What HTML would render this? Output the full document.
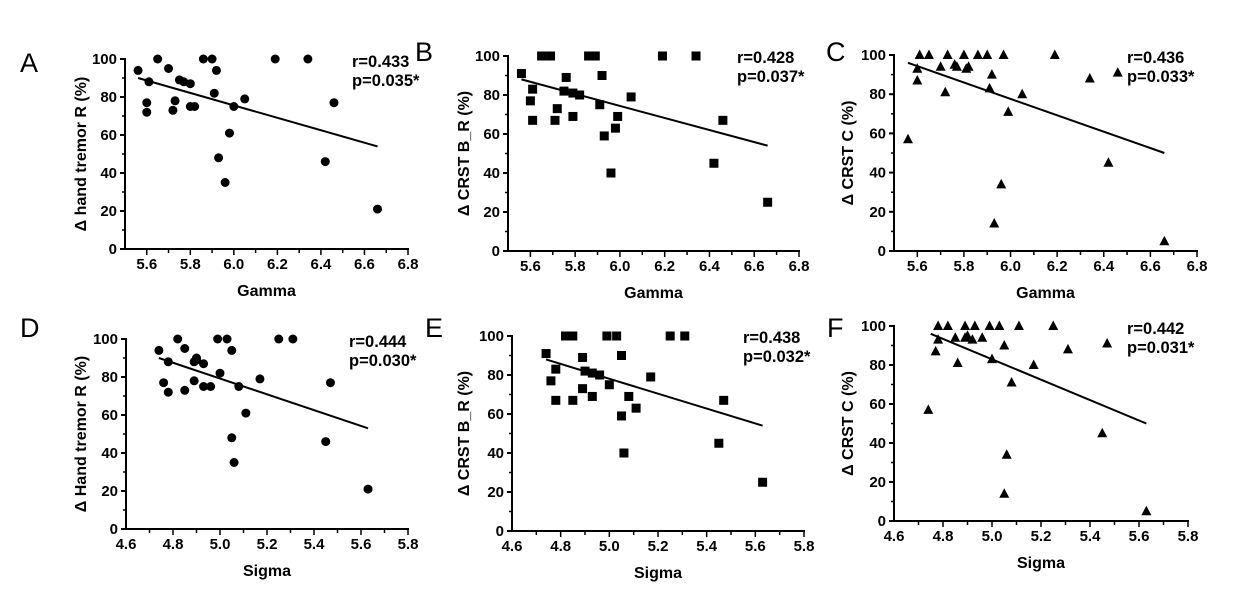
<!DOCTYPE html>
<html><head><meta charset="utf-8"><style>
html,body{margin:0;padding:0;background:#fff;}
svg{display:block;font-family:"Liberation Sans",Arial,sans-serif;}
</style></head><body>
<svg id="fig" width="1240" height="607" viewBox="0 0 1240 607"></svg>
<script>
// ---- data ----
const gammaA=[5.56,5.61,5.60,5.60,5.65,5.70,5.72,5.73,5.75,5.77,5.80,5.80,5.82,5.86,5.90,5.92,5.91,5.93,5.96,5.98,6.00,6.05,6.19,6.34,6.42,6.46,6.66];
const tremorA=[94,88,77,72,100,95,73,78,89,88,87,75,75,100,100,94,82,48,35,61,75,79,100,100,46,77,21];
const gammaB=[5.56,5.61,5.60,5.61,5.65,5.69,5.72,5.71,5.75,5.76,5.79,5.79,5.82,5.86,5.89,5.91,5.92,5.93,5.96,5.98,5.99,6.05,6.19,6.34,6.42,6.46,6.66];
const crstBB=[91,83,77,67,100,100,73,67,82,89,81,69,80,100,100,75,90,59,40,63,69,79,100,100,45,67,25];
const gammaC=[5.56,5.60,5.61,5.60,5.65,5.70,5.72,5.73,5.76,5.77,5.80,5.81,5.82,5.86,5.90,5.92,5.91,5.93,5.96,5.97,5.99,6.05,6.19,6.34,6.42,6.46,6.66];
const crstCC=[57,93,100,87,100,94,81,100,95,94,100,93,94,100,100,90,83,14,34,100,71,80,100,88,45,91,5];
const sigmaD=[4.74,4.76,4.78,4.78,4.82,4.85,4.85,4.89,4.89,4.90,4.90,4.93,4.93,4.96,4.99,5.00,5.03,5.05,5.05,5.06,5.08,5.11,5.17,5.25,5.31,5.45,5.47,5.63];
const tremorD=[94,77,88,72,100,95,73,88,78,89,90,87,75,75,100,82,100,48,94,35,75,61,79,100,100,46,77,21];
const sigmaE=[4.74,4.76,4.78,4.78,4.82,4.85,4.85,4.89,4.89,4.90,4.93,4.93,4.96,4.99,5.00,5.03,5.05,5.05,5.06,5.08,5.11,5.17,5.25,5.31,5.45,5.47,5.63];
const crstBE=[91,77,83,67,100,100,67,89,73,82,69,81,80,100,75,100,59,90,40,69,63,79,100,100,45,67,25];
const sigmaF=[4.74,4.77,4.78,4.78,4.82,4.85,4.86,4.89,4.89,4.90,4.92,4.93,4.96,4.99,5.00,5.03,5.05,5.05,5.06,5.08,5.11,5.17,5.25,5.31,5.45,5.47,5.63];
const crstCF=[57,87,100,93,100,94,81,100,94,95,93,100,94,100,83,100,90,14,34,71,100,80,100,88,45,91,5];
const fitX=[[5.56,6.66],[5.56,6.66],[5.56,6.66],[4.74,5.63],[4.74,5.63],[4.75,5.63]];
const fitY=[[90,54],[88,54],[96,50],[90,53],[88,54],[96,50]];
const yTicks=[0,20,40,60,80,100];
const gammaTicks=["5.6","5.8","6.0","6.2","6.4","6.6","6.8"];
const sigmaTicks=["4.6","4.8","5.0","5.2","5.4","5.6","5.8"];
const stats=[["r=0.433","p=0.035*"],["r=0.428","p=0.037*"],["r=0.436","p=0.033*"],["r=0.444","p=0.030*"],["r=0.438","p=0.032*"],["r=0.442","p=0.031*"]];
const yTitles=["Δ hand tremor R (%)","Δ CRST B_R (%)","Δ CRST C (%)","Δ Hand tremor R (%)","Δ CRST B_R (%)","Δ CRST C (%)"];
const letters=["A","B","C","D","E","F"];

// ---- layout ----
const P=[
 {L:125,R:408,T:59,B:249,xmin:5.5,xmax:6.8,ticks:gammaTicks,xt:"Gamma",xs:gammaA,ys:tremorA,m:"c",lx:20,ly:72,sx:352,sy:67,yt:86},
 {L:508,R:799,T:56,B:251,xmin:5.5,xmax:6.8,ticks:gammaTicks,xt:"Gamma",xs:gammaB,ys:crstBB,m:"s",lx:415,ly:61,sx:737,sy:63,yt:469},
 {L:894,R:1197,T:55,B:251,xmin:5.5,xmax:6.8,ticks:gammaTicks,xt:"Gamma",xs:gammaC,ys:crstCC,m:"t",lx:826,ly:61,sx:1127,sy:63,yt:853},
 {L:126,R:408,T:339,B:529,xmin:4.6,xmax:5.8,ticks:sigmaTicks,xt:"Sigma",xs:sigmaD,ys:tremorD,m:"c",lx:20,ly:337,sx:349,sy:347,yt:86},
 {L:512,R:804,T:336,B:531,xmin:4.6,xmax:5.8,ticks:sigmaTicks,xt:"Sigma",xs:sigmaE,ys:crstBE,m:"s",lx:425,ly:337,sx:743,sy:343,yt:469},
 {L:894,R:1188,T:326,B:521,xmin:4.6,xmax:5.8,ticks:sigmaTicks,xt:"Sigma",xs:sigmaF,ys:crstCF,m:"t",lx:827,ly:337,sx:1127,sy:334,yt:853}
];
const NS="http://www.w3.org/2000/svg";
const svg=document.getElementById('fig');
function mk(tag,at,parent,txt){const e=document.createElementNS(NS,tag);for(const k in at)e.setAttribute(k,at[k]);if(txt!==undefined)e.textContent=txt;parent.appendChild(e);return e;}
P.forEach((p,i)=>{
 const g=mk('g',{},svg);
 
 
 const X=v=>p.L+(v-p.xmin)/(p.xmax-p.xmin)*(p.R-p.L);
 const Y=v=>p.B-v/100*(p.B-p.T);
 const lt=mk('text',{x:p.lx,y:p.ly,'font-size':27},g,letters[i]);
 
 
 const ya=mk('line',{x1:p.L,y1:p.T-1,x2:p.L,y2:p.B,stroke:'#000','stroke-width':2},g);
 
 
 const xa=mk('line',{x1:p.L,y1:p.B,x2:p.R+1,y2:p.B,stroke:'#000','stroke-width':2},g);
 
 
 yTicks.forEach(t=>{
  mk('line',{x1:p.L-5,y1:Y(t),x2:p.L,y2:Y(t),stroke:'#000','stroke-width':2},g);
  if(t<100) mk('line',{x1:p.L-3,y1:Y(t+10),x2:p.L,y2:Y(t+10),stroke:'#000','stroke-width':1.5},g);
  const tl=mk('text',{x:p.L-8,y:Y(t)+5,'font-size':15,'font-weight':'bold','text-anchor':'end'},g,String(t));
  
  
 });
 for(let v=p.xmin+0.1;v<=p.xmax+0.001;v+=0.1){
  const major=p.ticks.includes(v.toFixed(1));
  mk('line',{x1:X(v),y1:p.B,x2:X(v),y2:p.B+(major?6:4),stroke:'#000','stroke-width':1.5},g);
 }
 p.ticks.forEach(t=>{
  const tl=mk('text',{x:X(parseFloat(t)),y:p.B+20,'font-size':15,'font-weight':'bold','text-anchor':'middle'},g,t);
  
  
 });
 const xt=mk('text',{x:(p.L+p.R)/2,y:p.B+47,'font-size':16,'font-weight':'bold','text-anchor':'middle'},g,p.xt);
 
 
 const cy=(p.T+p.B)/2;
 const yt=mk('text',{x:p.yt,y:cy,'font-size':16,'font-weight':'bold','text-anchor':'middle',transform:`rotate(-90 ${p.yt} ${cy})`},g,yTitles[i]);
 
 
 p.xs.forEach((xv,j)=>{
  const px=X(xv),py=Y(p.ys[j]);let e;
  if(p.m==='c')e=mk('circle',{cx:px,cy:py,r:4.5,fill:'#000'},g);
  else if(p.m==='s')e=mk('rect',{x:px-4.5,y:py-4.5,width:9,height:9,fill:'#000'},g);
  else e=mk('polygon',{points:`${px},${py-5.5} ${px-5},${py+4} ${px+5},${py+4}`,fill:'#000'},g);
  
  
 });
 const fl=mk('line',{x1:X(fitX[i][0]),y1:Y(fitY[i][0]),x2:X(fitX[i][1]),y2:Y(fitY[i][1]),stroke:'#000','stroke-width':2},g);
 
 
 const s1=mk('text',{x:p.sx,y:p.sy,'font-size':16.5,'font-weight':'bold'},g,stats[i][0]);
 
 
 const s2=mk('text',{x:p.sx,y:p.sy+19,'font-size':16.5,'font-weight':'bold'},g,stats[i][1]);
 
 
});
</script>
</body></html>
